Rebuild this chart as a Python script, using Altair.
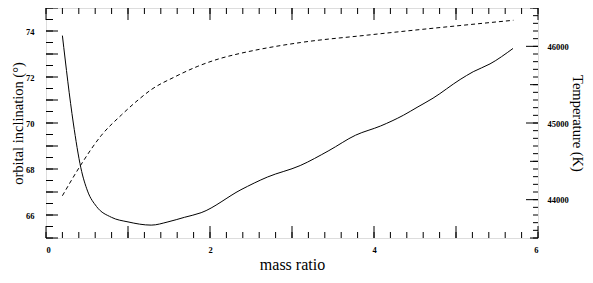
import altair as alt
import pandas as pd

# inclination (left axis) vs mass ratio
q_incl = [0.2, 0.333, 0.425, 0.507, 0.616, 0.798, 1.0, 1.283, 1.487, 1.689, 1.892,
          2.378, 2.7, 3.1, 3.45, 3.775, 4.08, 4.36, 4.525, 4.72, 5.05, 5.21, 5.415, 5.695]
incl = [73.8, 70.0, 68.05, 67.04, 66.37, 65.9, 65.7, 65.56, 65.7, 65.9, 66.1,
        67.1, 67.65, 68.15, 68.8, 69.47, 69.87, 70.34, 70.68, 71.08, 71.89, 72.23, 72.57, 73.24]

# temperature (right axis) vs mass ratio
q_temp = [0.2, 0.42, 0.677, 0.92, 1.123, 1.283, 1.567, 1.852, 2.135, 2.357, 2.6,
          3.107, 3.917, 4.565, 5.01, 5.70]
temp = [44051, 44445, 44841, 45105, 45300, 45435, 45600, 45740, 45845, 45905, 45960,
        46050, 46146, 46219, 46267, 46340]

x_labels = [0, 2, 4, 6]
x_major = [0, 1, 2, 3, 4, 5, 6]
x_minor = [round(0.2 * k, 1) for k in range(31)]
incl_labels = [66, 68, 70, 72, 74]
incl_major = [65, 66, 67, 68, 69, 70, 71, 72, 73, 74, 75]
incl_minor = [65 + 0.5 * k for k in range(21)]
temp_labels = [44000, 45000, 46000]
temp_mid = [43500, 44500, 45500, 46500]
temp_minor = [43500 + 100 * k for k in range(31)]

W, H = 492, 230
FONT = "Liberation Serif"

xs = alt.Scale(domain=[0, 6], nice=False, zero=False)
ys_i = alt.Scale(domain=[65, 75], nice=False, zero=False)
ys_t = alt.Scale(domain=[43500, 46500], nice=False, zero=False)

x_axis = alt.Axis(
    values=x_labels, ticks=False, domain=False, grid=False, title="mass ratio",
    labelFont=FONT, labelFontSize=8.5, labelFontWeight="bold", labelPadding=7,
    titleFont=FONT, titleFontSize=16, titleFontWeight="normal", titlePadding=3,
    titleColor="black", labelColor="black")

df_i = pd.DataFrame({"q": q_incl, "i": incl})
df_t = pd.DataFrame({"q": q_temp, "T": temp})

line_i = alt.Chart(df_i).mark_line(color="black", strokeWidth=1, interpolate="monotone").encode(
    x=alt.X("q:Q", scale=xs, axis=x_axis),
    y=alt.Y("i:Q", scale=ys_i, axis=alt.Axis(
        orient="left", values=incl_labels, ticks=False, domain=False, grid=False,
        title="orbital inclination (°)",
        labelFont=FONT, labelFontSize=8.5, labelFontWeight="bold", labelPadding=12,
        titleFont=FONT, titleFontSize=14.5, titleFontWeight="normal", titlePadding=0,
        titleColor="black", labelColor="black")),
)

line_t = alt.Chart(df_t).mark_line(color="black", strokeWidth=1, strokeDash=[4, 3],
                                    interpolate="monotone").encode(
    x=alt.X("q:Q", scale=xs, axis=x_axis),
    y=alt.Y("T:Q", scale=ys_t, axis=alt.Axis(
        orient="right", values=temp_labels, ticks=False, domain=False, grid=False,
        title="Temperature (K)", format="d",
        labelFont=FONT, labelFontSize=8.5, labelFontWeight="bold", labelPadding=9,
        titleFont=FONT, titleFontSize=14.5, titleFontWeight="normal", titlePadding=1,
        titleColor="black", labelColor="black")),
)


def xticks(vals, length, top=False):
    df = pd.DataFrame({"v": vals})
    if top:
        yv, y2v = alt.value(0), alt.value(length)
    else:
        yv, y2v = alt.value(H), alt.value(H - length)
    return alt.Chart(df).mark_rule(color="black", strokeWidth=1).encode(
        x=alt.X("v:Q", scale=xs, axis=x_axis), y=yv, y2=y2v)


def yticks(vals, scale, length, right=False):
    df = pd.DataFrame({"v": vals})
    if right:
        xv, x2v = alt.value(W), alt.value(W - length)
    else:
        xv, x2v = alt.value(0), alt.value(length)
    return alt.Chart(df).mark_rule(color="black", strokeWidth=1).encode(
        y=alt.Y("v:Q", scale=scale, axis=None), x=xv, x2=x2v)


chart = alt.layer(
    line_i,
    line_t,
    xticks(x_minor, 6), xticks(x_major, 12),
    xticks(x_minor, 6, top=True), xticks(x_major, 12, top=True),
    yticks(incl_minor, ys_i, 7), yticks(incl_major, ys_i, 12),
    yticks(temp_minor, ys_t, 5, right=True), yticks(temp_mid, ys_t, 8, right=True),
    yticks(temp_labels, ys_t, 12, right=True),
).resolve_scale(y="independent").properties(
    width=W, height=H,
    autosize=alt.AutoSizeParams(type="none"),
    padding={"left": 38, "top": 0, "right": 47, "bottom": 37},
).configure_view(stroke="black", strokeWidth=1).configure(background="white")

chart.save("out.html", embed_options={"renderer": "svg", "actions": False})
